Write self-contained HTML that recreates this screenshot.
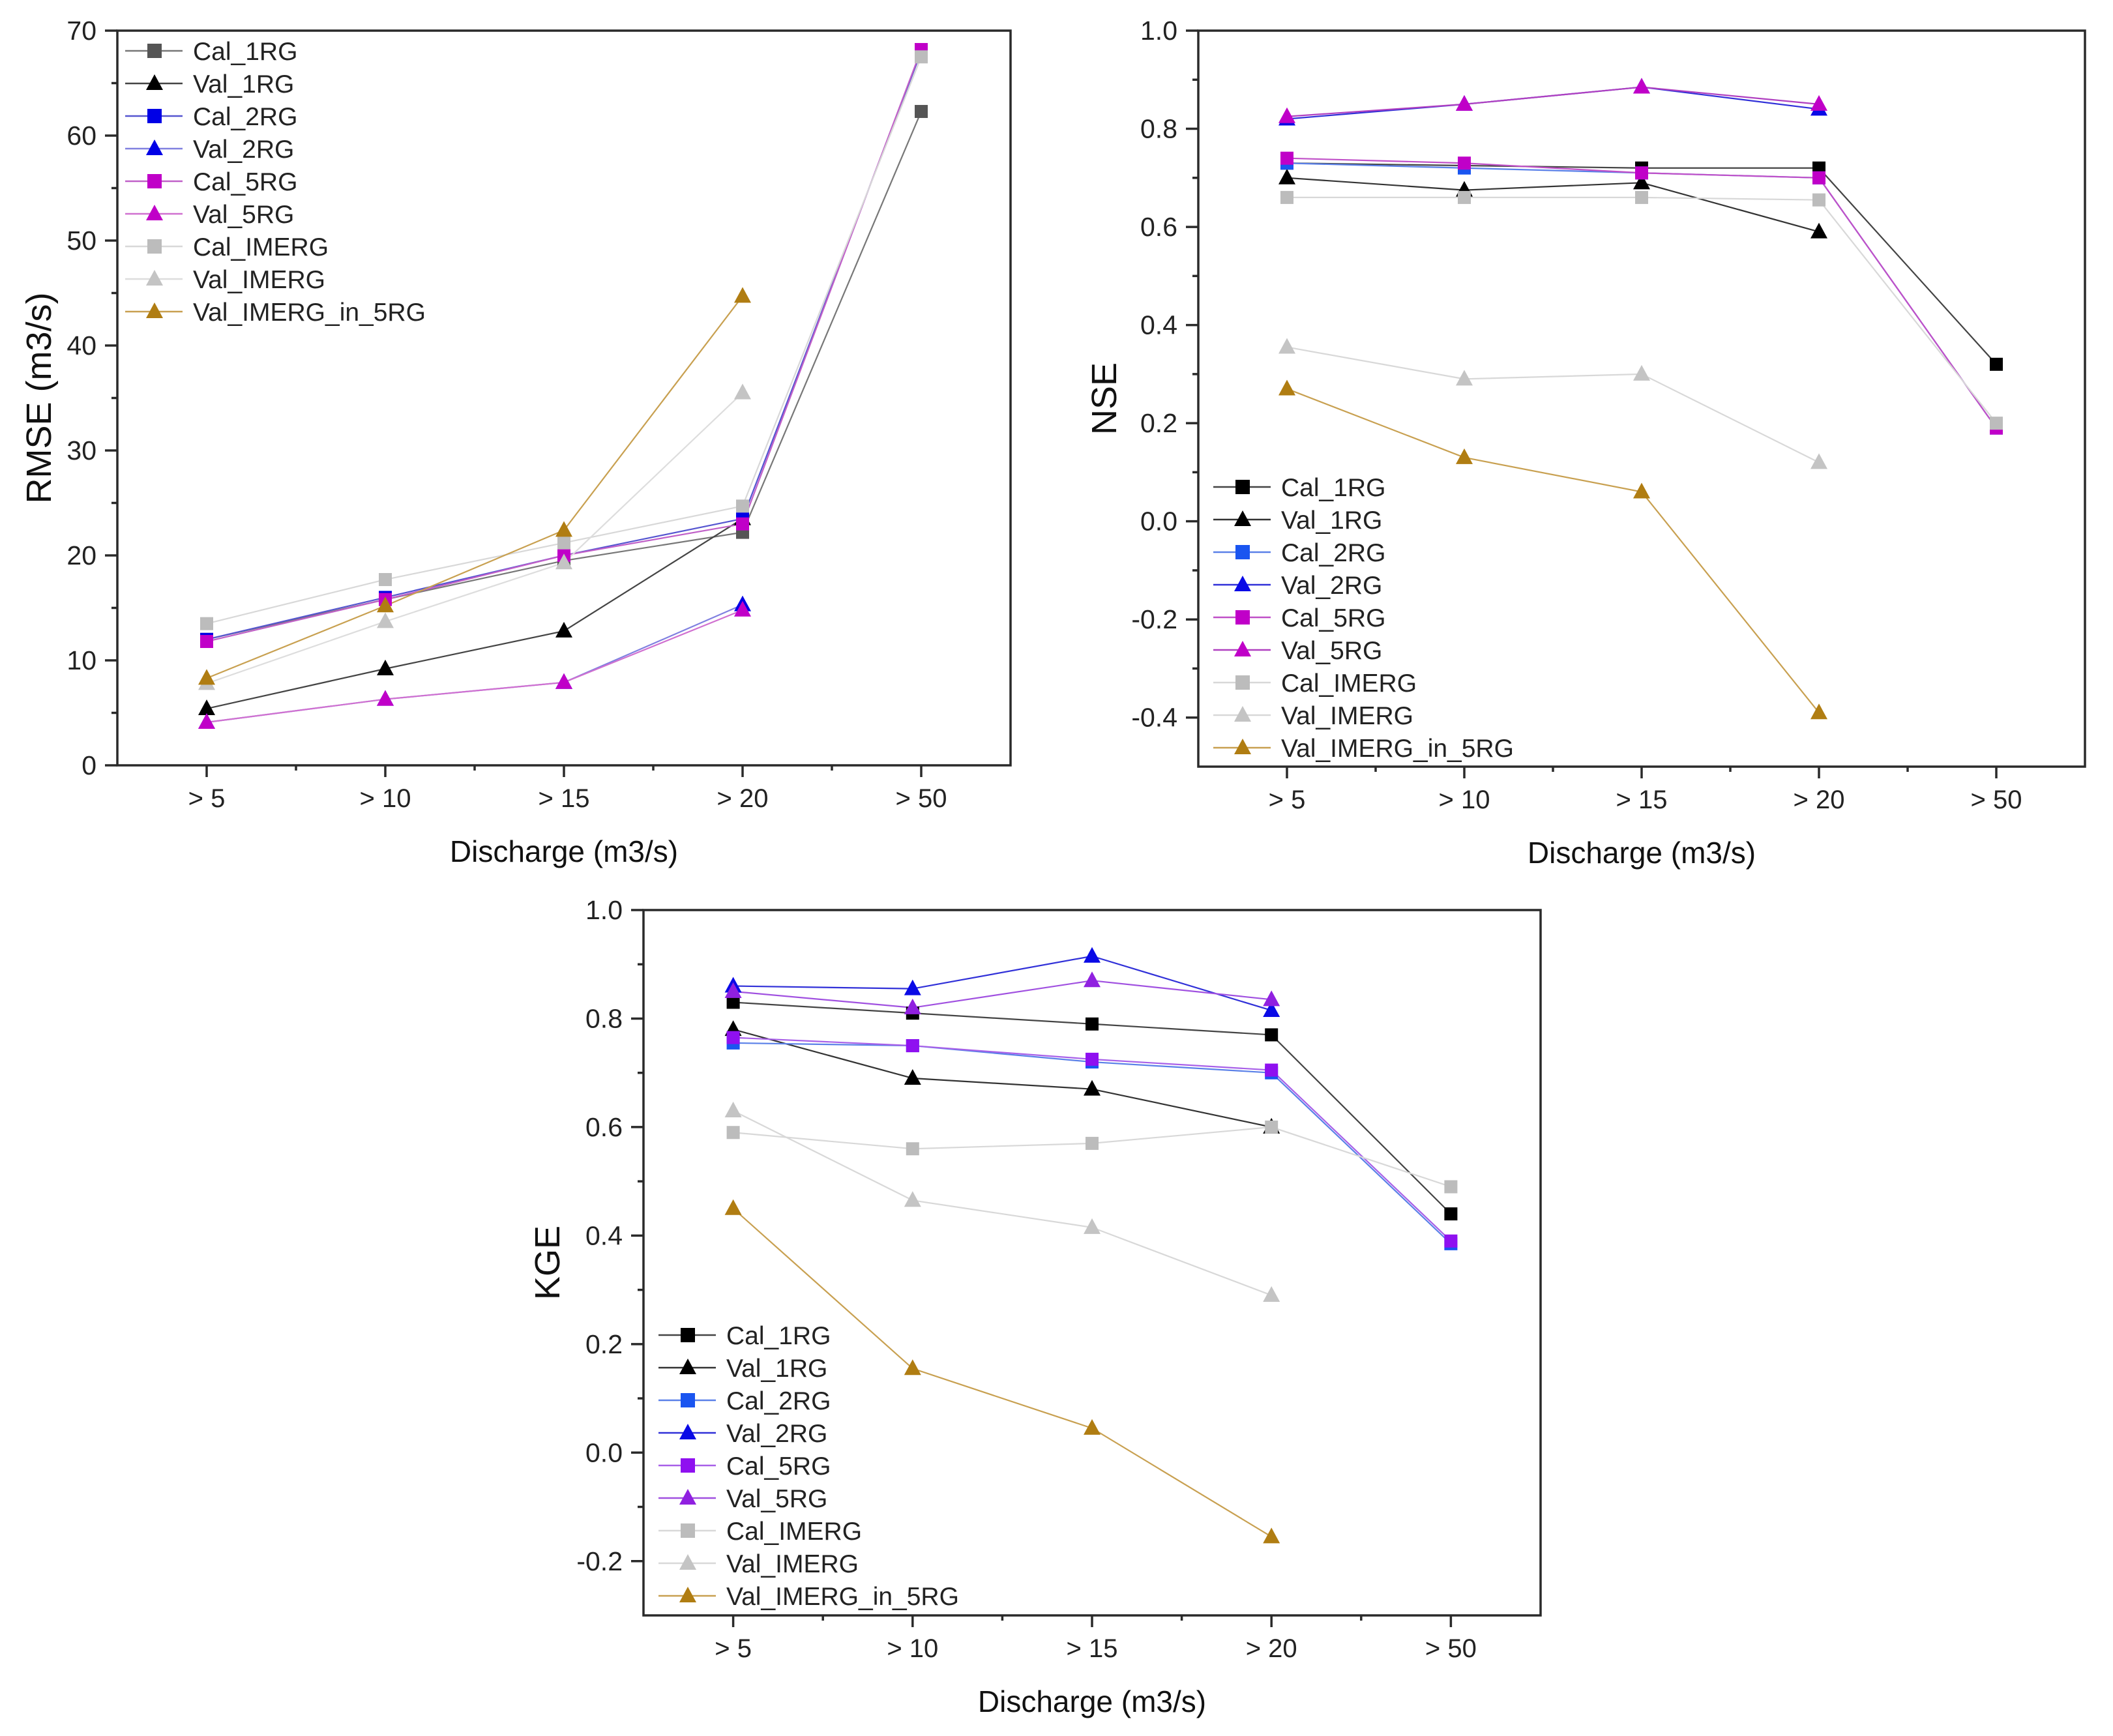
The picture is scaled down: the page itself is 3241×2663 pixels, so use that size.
<!DOCTYPE html>
<html><head><meta charset="utf-8"><style>
html,body{margin:0;padding:0;background:#fff;}
svg{display:block;font-family:"Liberation Sans",Arial,sans-serif;}
</style></head><body>
<svg id="fig" width="3241" height="2663" viewBox="0 0 3241 2663" xmlns="http://www.w3.org/2000/svg"></svg>
<script>
const categories = ["> 5","> 10","> 15","> 20","> 50"];
const seriesNames = ["Cal_1RG","Val_1RG","Cal_2RG","Val_2RG","Cal_5RG","Val_5RG","Cal_IMERG","Val_IMERG","Val_IMERG_in_5RG"];
const seriesShapes = ["sq","tri","sq","tri","sq","tri","sq","tri","tri"];
// RMSE values
const rmseCal1 = [12, 15.8, 19.5, 22.2, 62.3];
const rmseVal1 = [5.4, 9.2, 12.8, 23.5];
const rmseCal2 = [12, 16, 20, 23.5, 68];
const rmseVal2 = [4.1, 6.3, 7.9, 15.3];
const rmseCal5 = [11.8, 15.8, 20, 23, 68.2];
const rmseVal5 = [4.1, 6.3, 7.9, 14.8];
const rmseCalI = [13.5, 17.7, 21.2, 24.7, 67.5];
const rmseValI = [7.8, 13.7, 19.3, 35.5];
const rmseValI5 = [8.3, 15.2, 22.4, 44.7];
const rmseTicks = [0,10,20,30,40,50,60,70];
// NSE values
const nseCal1 = [0.73, 0.725, 0.72, 0.72, 0.32];
const nseVal1 = [0.70, 0.675, 0.69, 0.59];
const nseCal2 = [0.73, 0.72, 0.71, 0.70, 0.19];
const nseVal2 = [0.82, 0.85, 0.885, 0.84];
const nseCal5 = [0.74, 0.73, 0.71, 0.70, 0.19];
const nseVal5 = [0.825, 0.85, 0.885, 0.85];
const nseCalI = [0.66, 0.66, 0.66, 0.655, 0.20];
const nseValI = [0.355, 0.29, 0.30, 0.12];
const nseValI5 = [0.27, 0.13, 0.06, -0.39];
const nseTicks = [-0.4,-0.2,0.0,0.2,0.4,0.6,0.8,1.0];
// KGE values
const kgeCal1 = [0.83, 0.81, 0.79, 0.77, 0.44];
const kgeVal1 = [0.78, 0.69, 0.67, 0.60];
const kgeCal2 = [0.755, 0.75, 0.72, 0.70, 0.385];
const kgeVal2 = [0.86, 0.855, 0.915, 0.815];
const kgeCal5 = [0.765, 0.75, 0.725, 0.705, 0.39];
const kgeVal5 = [0.85, 0.82, 0.87, 0.835];
const kgeCalI = [0.59, 0.56, 0.57, 0.60, 0.49];
const kgeValI = [0.63, 0.465, 0.415, 0.29];
const kgeValI5 = [0.45, 0.155, 0.045, -0.155];
const kgeTicks = [-0.2,0.0,0.2,0.4,0.6,0.8,1.0];

const NS="http://www.w3.org/2000/svg";
const svg=document.getElementById('fig');
function mk(tag,attrs,parent){const e=document.createElementNS(NS,tag);for(const k in attrs)e.setAttribute(k,attrs[k]);(parent||svg).appendChild(e);return e;}

function drawChart(cfg){
  const g=mk('g',{});
  
  
  const L=cfg.left,R=cfg.right,T=cfg.top,B=cfg.bottom;
  const xs=i=>L+(i+0.5)*(R-L)/categories.length;
  const ys=v=>B-(v-cfg.ymin)/(cfg.ymax-cfg.ymin)*(B-T);
  // series lines and markers
  cfg.series.forEach((vals,si)=>{
    const col=cfg.colors[si], lc=cfg.lineColors[si];
    const pts=vals.map((v,i)=>xs(i)+','+ys(v)).join(' ');
    const pl=mk('polyline',{points:pts,fill:'none',stroke:lc,'stroke-width':2.2},g);
    
    
  });
  cfg.series.forEach((vals,si)=>{
    const col=cfg.colors[si];
    vals.forEach((v,i)=>{
      const x=xs(i),y=ys(v);let m;
      if(seriesShapes[si]==='sq') m=mk('rect',{x:x-10,y:y-10,width:20,height:20,fill:col},g);
      else m=mk('polygon',{points:`${x},${y-14} ${x-13},${y+10} ${x+13},${y+10}`,fill:col},g);
      
      
    });
  });
  // frame
  const fr=mk('rect',{x:L,y:T,width:R-L,height:B-T,fill:'none',stroke:'#2a2a2a','stroke-width':3.5},g);
  
  
  // y ticks
  cfg.yticks.forEach((t,k)=>{
    const y=ys(t);
    mk('line',{x1:L-19,x2:L,y1:y,y2:y,stroke:'#2a2a2a','stroke-width':3.5},g);
    const tx=mk('text',{x:L-32,y:y+14,'text-anchor':'end','font-size':41,fill:'#222'},g);
    tx.textContent=cfg.fmt(t);
    
    
    if(k<cfg.yticks.length-1){const ym=ys((t+cfg.yticks[k+1])/2);mk('line',{x1:L-9,x2:L,y1:ym,y2:ym,stroke:'#2a2a2a','stroke-width':3.5},g);}
  });
  // x ticks
  categories.forEach((c,i)=>{
    const x=xs(i);
    mk('line',{x1:x,x2:x,y1:B,y2:B+18,stroke:'#2a2a2a','stroke-width':3.5},g);
    if(i<categories.length-1){const xm=L+(i+1)*(R-L)/categories.length;mk('line',{x1:xm,x2:xm,y1:B,y2:B+8,stroke:'#2a2a2a','stroke-width':3.5},g);}
    const tx=mk('text',{x:x,y:B+64,'text-anchor':'middle','font-size':40,fill:'#222'},g);
    tx.textContent=c;
    
    
  });
  const xt=mk('text',{x:(L+R)/2,y:B+148,'text-anchor':'middle','font-size':46,fill:'#111'},g);
  xt.textContent='Discharge (m3/s)';
  
  
  const yt=mk('text',{x:0,y:0,'text-anchor':'middle','font-size':54,fill:'#111',transform:`translate(${cfg.ytx},${(T+B)/2}) rotate(-90)`},g);
  yt.textContent=cfg.ytitle;
  
  
  // legend
  seriesNames.forEach((n,si)=>{
    const y=cfg.legY+si*50, x0=cfg.legX;
    const lg=mk('g',{},g);
    
    
    mk('line',{x1:x0,x2:x0+88,y1:y,y2:y,stroke:cfg.lineColors[si],'stroke-width':2.5},lg);
    const mx=x0+45;
    if(seriesShapes[si]==='sq') mk('rect',{x:mx-11,y:y-11,width:22,height:22,fill:cfg.colors[si]},lg);
    else mk('polygon',{points:`${mx},${y-14} ${mx-13},${y+10} ${mx+13},${y+10}`,fill:cfg.colors[si]},lg);
    const t=mk('text',{x:x0+104,y:y+14,'font-size':39,fill:'#222'},lg);
    t.textContent=n;
  });
}

const gold='#b07d12';
drawChart({name:'rmse-chart',left:180,right:1550,top:47,bottom:1174,ymin:0,ymax:70,yticks:rmseTicks,fmt:v=>String(v),
  series:[rmseCal1,rmseVal1,rmseCal2,rmseVal2,rmseCal5,rmseVal5,rmseCalI,rmseValI,rmseValI5],
  colors:['#555','#000','#0000e6','#0000e6','#c000c8','#c000c8','#bcbcbc','#c4c4c4',gold],
  lineColors:['#777','#444','#5555d0','#8080e0','#c060c8','#d070d0','#d8d8d8','#dddddd','#c8a050'],
  ytitle:'RMSE (m3/s)',ytx:78,legX:192,legY:78});
drawChart({name:'nse-chart',left:1838,right:3198,top:47,bottom:1176,ymin:-0.5,ymax:1.0,yticks:nseTicks,fmt:v=>v.toFixed(1),
  series:[nseCal1,nseVal1,nseCal2,nseVal2,nseCal5,nseVal5,nseCalI,nseValI,nseValI5],
  colors:['#000','#000','#1a55f0','#0a0ae6','#c000c8','#c000c8','#bcbcbc','#c4c4c4',gold],
  lineColors:['#444','#333','#5a80e8','#3030d8','#c050c8','#b040c0','#d8d8d8','#d8d8d8','#c8a050'],
  ytitle:'NSE',ytx:1712,legX:1861,legY:747});
drawChart({name:'kge-chart',left:987,right:2363,top:1396,bottom:2478,ymin:-0.3,ymax:1.0,yticks:kgeTicks,fmt:v=>v.toFixed(1),
  series:[kgeCal1,kgeVal1,kgeCal2,kgeVal2,kgeCal5,kgeVal5,kgeCalI,kgeValI,kgeValI5],
  colors:['#000','#000','#1a55f0','#0a0ae6','#8f10f0','#9020e0','#bcbcbc','#c4c4c4',gold],
  lineColors:['#444','#333','#5a80e8','#3030d8','#a860e8','#a050e0','#d8d8d8','#d8d8d8','#c8a050'],
  ytitle:'KGE',ytx:858,legX:1010,legY:2048});
</script>
</body></html>
